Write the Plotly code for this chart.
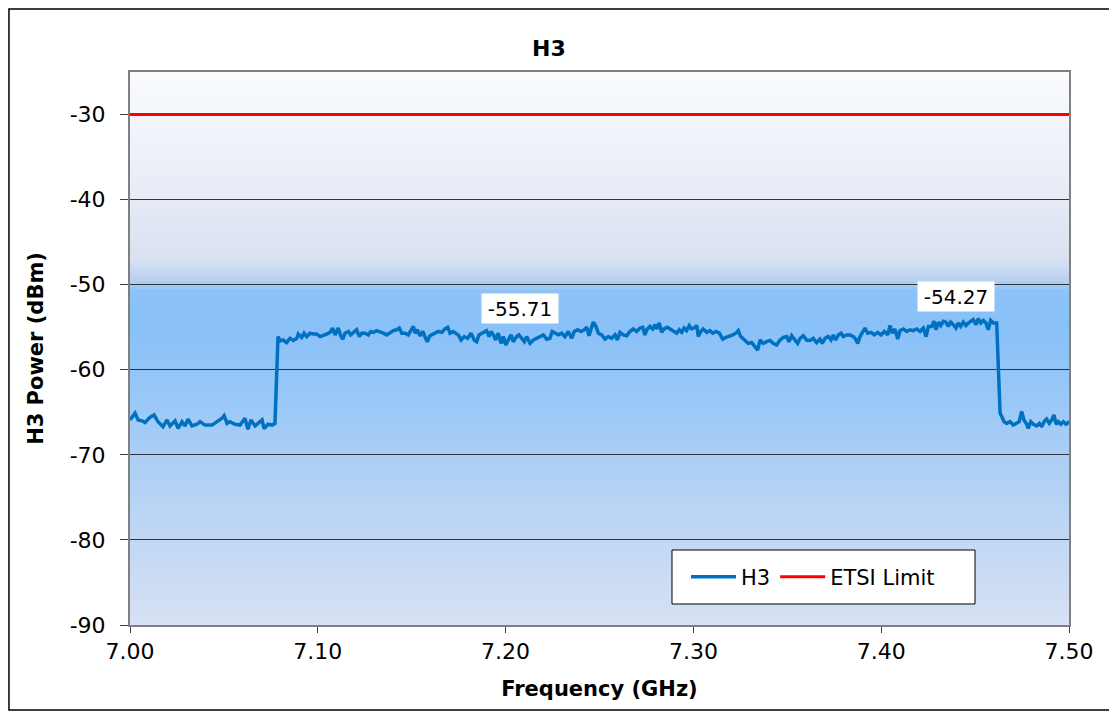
import plotly.graph_objects as go

# ---------------- data ----------------
freq_ghz = [
    7.0000, 7.0027, 7.0043, 7.0064, 7.0080, 7.0106, 7.0128, 7.0149, 7.0176, 7.0197,
    7.0213, 7.0240, 7.0256, 7.0277, 7.0293, 7.0309, 7.0330, 7.0357, 7.0373, 7.0399,
    7.0437, 7.0463, 7.0490, 7.0501, 7.0517, 7.0532, 7.0559, 7.0586, 7.0612, 7.0628,
    7.0644, 7.0666, 7.0682, 7.0703, 7.0714, 7.0735, 7.0756, 7.0772, 7.0788, 7.0799,
    7.0816, 7.0834, 7.0852, 7.0870, 7.0888, 7.0896, 7.0914, 7.0927, 7.0941, 7.0958,
    7.0976, 7.0994, 7.1012, 7.1029, 7.1047, 7.1065, 7.1079, 7.1092, 7.1109, 7.1122,
    7.1133, 7.1145, 7.1163, 7.1175, 7.1189, 7.1207, 7.1221, 7.1234, 7.1251, 7.1269,
    7.1282, 7.1296, 7.1314, 7.1331, 7.1349, 7.1367, 7.1384, 7.1402, 7.1420, 7.1434,
    7.1447, 7.1464, 7.1482, 7.1500, 7.1509, 7.1518, 7.1530, 7.1544, 7.1559, 7.1576,
    7.1583, 7.1597, 7.1615, 7.1633, 7.1642, 7.1660, 7.1677, 7.1692, 7.1704, 7.1721,
    7.1734, 7.1748, 7.1763, 7.1780, 7.1798, 7.1816, 7.1833, 7.1846, 7.1858, 7.1873,
    7.1887, 7.1899, 7.1912, 7.1922, 7.1935, 7.1947, 7.1961, 7.1976, 7.1988, 7.2001,
    7.2014, 7.2029, 7.2041, 7.2059, 7.2071, 7.2086, 7.2100, 7.2112, 7.2130, 7.2148,
    7.2166, 7.2183, 7.2201, 7.2219, 7.2236, 7.2248, 7.2263, 7.2281, 7.2299, 7.2316,
    7.2334, 7.2352, 7.2366, 7.2384, 7.2401, 7.2419, 7.2432, 7.2444, 7.2467, 7.2481,
    7.2494, 7.2512, 7.2529, 7.2547, 7.2565, 7.2583, 7.2595, 7.2609, 7.2627, 7.2645,
    7.2662, 7.2680, 7.2698, 7.2716, 7.2730, 7.2742, 7.2754, 7.2769, 7.2783, 7.2796,
    7.2804, 7.2818, 7.2831, 7.2843, 7.2861, 7.2879, 7.2897, 7.2911, 7.2925, 7.2938,
    7.2950, 7.2964, 7.2978, 7.2991, 7.3003, 7.3018, 7.3026, 7.3039, 7.3052, 7.3071,
    7.3088, 7.3103, 7.3120, 7.3138, 7.3156, 7.3174, 7.3191, 7.3209, 7.3227, 7.3239,
    7.3252, 7.3269, 7.3292, 7.3310, 7.3328, 7.3342, 7.3355, 7.3372, 7.3390, 7.3408,
    7.3425, 7.3443, 7.3461, 7.3479, 7.3497, 7.3509, 7.3523, 7.3541, 7.3555, 7.3568,
    7.3585, 7.3603, 7.3621, 7.3638, 7.3656, 7.3674, 7.3686, 7.3701, 7.3718, 7.3733,
    7.3745, 7.3757, 7.3772, 7.3786, 7.3798, 7.3816, 7.3834, 7.3852, 7.3864, 7.3875,
    7.3887, 7.3900, 7.3914, 7.3928, 7.3946, 7.3963, 7.3981, 7.3999, 7.4017, 7.4035,
    7.4047, 7.4059, 7.4073, 7.4088, 7.4100, 7.4118, 7.4136, 7.4153, 7.4171, 7.4189,
    7.4207, 7.4224, 7.4239, 7.4251, 7.4269, 7.4281, 7.4292, 7.4304, 7.4317, 7.4331,
    7.4345, 7.4357, 7.4370, 7.4384, 7.4398, 7.4410, 7.4423, 7.4437, 7.4451, 7.4464,
    7.4476, 7.4490, 7.4505, 7.4517, 7.4530, 7.4544, 7.4558, 7.4570, 7.4583, 7.4597,
    7.4615, 7.4633, 7.4642, 7.4654, 7.4668, 7.4686, 7.4703, 7.4721, 7.4735, 7.4748,
    7.4760, 7.4775, 7.4783, 7.4796, 7.4810, 7.4828, 7.4842, 7.4855, 7.4867, 7.4881,
    7.4895, 7.4908, 7.4920, 7.4931, 7.4943, 7.4956, 7.4970, 7.4984, 7.4996, 7.5000,
]

h3_power_dbm = [
    -65.9, -65.1, -65.9, -66.0, -66.2, -65.6, -65.3, -66.1, -66.7, -65.9,
    -66.6, -66.0, -66.9, -66.1, -66.6, -65.8, -66.6, -66.4, -66.1, -66.5,
    -66.5, -66.1, -65.7, -65.4, -66.3, -66.1, -66.4, -66.5, -65.7, -67.0,
    -65.9, -66.6, -66.3, -65.9, -66.9, -66.4, -66.5, -66.3, -56.1, -56.6,
    -56.5, -56.8, -56.3, -56.55, -56.3, -55.8, -56.2, -55.7, -56.1, -55.7,
    -55.8, -55.8, -56.1, -56.0, -55.8, -55.6, -55.1, -55.9, -55.1, -56.0,
    -56.4, -55.7, -55.5, -55.9, -55.6, -55.3, -56.1, -55.7, -55.7, -55.9,
    -55.5, -55.6, -55.4, -55.6, -55.7, -55.9, -55.6, -55.4, -55.3, -55.1,
    -55.7, -55.7, -55.9, -55.1, -54.9, -55.7, -55.3, -56.0, -55.5, -56.4,
    -56.7, -56.0, -55.8, -55.7, -55.5, -55.6, -55.2, -55.0, -55.7, -55.5,
    -55.7, -55.9, -56.5, -56.1, -56.3, -55.7, -56.5, -56.7, -55.9, -55.7,
    -55.5, -55.4, -56.1, -55.5, -55.9, -56.5, -55.7, -56.9, -56.1, -57.1,
    -56.5, -55.9, -56.7, -56.1, -55.9, -56.3, -56.7, -56.1, -56.9, -56.5,
    -56.3, -56.1, -55.9, -56.4, -56.3, -55.5, -55.7, -55.9, -55.7, -56.1,
    -55.5, -56.3, -55.5, -55.3, -55.5, -55.3, -55.0, -56.0, -54.4, -54.9,
    -55.7, -55.9, -56.4, -56.1, -56.3, -55.9, -56.5, -55.6, -55.9, -56.0,
    -55.5, -55.2, -55.5, -55.1, -55.0, -55.9, -55.2, -54.9, -55.2, -54.7,
    -55.2, -54.5, -55.6, -55.2, -55.0, -55.2, -55.5, -55.7, -55.3, -55.6,
    -55.1, -55.4, -54.8, -55.2, -55.1, -54.8, -56.1, -55.5, -55.2, -55.6,
    -55.4, -55.7, -55.5, -55.7, -56.4, -56.2, -56.0, -55.9, -55.7, -55.4,
    -56.1, -56.5, -56.9, -56.8, -57.3, -57.7, -56.5, -56.9, -56.7, -56.55,
    -56.9, -57.1, -56.5, -56.2, -56.1, -56.7, -56.0, -56.5, -56.9, -56.3,
    -56.0, -56.5, -56.55, -56.3, -56.8, -56.4, -56.9, -56.3, -56.1, -56.5,
    -55.9, -56.5, -55.9, -55.7, -56.1, -55.9, -55.9, -56.1, -56.4, -56.9,
    -56.1, -55.6, -55.1, -55.7, -55.6, -55.9, -55.6, -55.9, -55.5, -55.9,
    -54.8, -55.7, -55.2, -56.4, -55.4, -55.2, -55.5, -55.3, -55.4, -55.2,
    -55.5, -55.1, -56.1, -54.9, -54.9, -54.3, -55.3, -54.4, -54.8, -54.3,
    -54.4, -54.9, -54.4, -54.7, -55.1, -54.5, -54.9, -54.4, -54.8, -54.5,
    -54.3, -54.1, -54.7, -54.0, -54.5, -54.2, -54.5, -55.3, -54.2, -54.5,
    -54.5, -65.1, -65.5, -66.1, -66.3, -66.1, -66.5, -66.3, -66.1, -64.9,
    -65.9, -66.4, -66.9, -66.1, -66.4, -66.6, -66.3, -66.7, -66.1, -65.8,
    -66.3, -65.9, -65.3, -66.4, -66.1, -66.4, -66.1, -66.4, -66.2, -66.3,
]

etsi_limit_dbm = -30
limit_freq_ghz = [7.00, 7.50]

label_freq_ghz = [7.2077, 7.4398]
label_values = [-55.71, -54.27]

x_tick_vals = [7.00, 7.10, 7.20, 7.30, 7.40, 7.50]
x_tick_text = ["7.00", "7.10", "7.20", "7.30", "7.40", "7.50"]
y_tick_vals = [-90, -80, -70, -60, -50, -40, -30]
y_tick_text = ["-90", "-80", "-70", "-60", "-50", "-40", "-30"]

# ---------------- style ----------------
FONT = "DejaVu Sans, Liberation Sans, Arial, sans-serif"
BLUE = "#0070C0"
RED = "#FF0000"

fig = go.Figure()

fig.add_trace(go.Scatter(
    x=freq_ghz, y=h3_power_dbm, mode="lines", name="H3",
    line=dict(color=BLUE, width=3.5),
))
fig.add_trace(go.Scatter(
    x=limit_freq_ghz, y=[etsi_limit_dbm] * len(limit_freq_ghz), mode="lines",
    name="ETSI Limit", line=dict(color=RED, width=3),
))

# background gradient (plot area) made of thin strips
stops = [
    (0.00, (249, 251, 254)),
    (0.23, (230, 235, 246)),
    (0.34, (216, 225, 241)),
    (0.38, (181, 207, 241)),
    (0.395, (141, 195, 248)),
    (0.45, (136, 192, 248)),
    (0.59, (153, 200, 247)),
    (0.77, (182, 211, 244)),
    (1.00, (214, 225, 243)),
]


def color_at(f):
    for (f0, c0), (f1, c1) in zip(stops[:-1], stops[1:]):
        if f0 <= f <= f1:
            t = 0 if f1 == f0 else (f - f0) / (f1 - f0)
            return "rgb(%d,%d,%d)" % tuple(round(a + (b - a) * t) for a, b in zip(c0, c1))
    return "rgb(%d,%d,%d)" % stops[-1][1]


shapes = []
n_strips = 140
for i in range(n_strips):
    top = 1 - i / n_strips
    bot = 1 - (i + 1) / n_strips
    shapes.append(dict(
        type="rect", xref="x domain", yref="y domain",
        x0=0, x1=1, y0=bot - 0.002, y1=top,
        fillcolor=color_at((i + 0.5) / n_strips), line=dict(width=0), layer="below",
    ))

# outer chart border
shapes.append(dict(
    type="rect", xref="paper", yref="paper",
    x0=-0.1289, x1=1.0447, y0=-0.1537, y1=1.1139,
    line=dict(color="#000000", width=1.5), fillcolor="rgba(0,0,0,0)", layer="above",
))
# legend frame
shapes.append(dict(
    type="rect", xref="paper", yref="paper",
    x0=0.5772, x1=0.8999, y0=0.038, y1=0.1356,
    line=dict(color="#000000", width=1), fillcolor="white", layer="above",
))

annotations = []
for fx, val in zip(label_freq_ghz, label_values):
    annotations.append(dict(
        x=fx, y=val, xref="x", yref="y", text="%.2f" % val, showarrow=False,
        yshift=25, bgcolor="white", width=74, height=27,
        font=dict(family=FONT, size=20, color="black"),
    ))

fig.update_layout(
    width=1117, height=715,
    margin=dict(l=122, r=56, t=64, b=98),
    paper_bgcolor="white",
    plot_bgcolor="rgba(0,0,0,0)",
    font=dict(family=FONT, size=21, color="black"),
    title=dict(text="<b>H3</b>", x=0.4843, xanchor="center", y=1 - 40 / 715,
               yanchor="middle", font=dict(family=FONT, size=22, color="black")),
    showlegend=True,
    legend=dict(
        orientation="h", x=0.5921, y=0.0868, xanchor="left", yanchor="middle",
        bgcolor="rgba(0,0,0,0)", borderwidth=0,
        font=dict(family=FONT, size=21, color="black"),
        itemwidth=45,
    ),
    shapes=shapes,
    annotations=annotations,
)

fig.update_xaxes(
    range=[7.0, 7.5], tickvals=x_tick_vals, ticktext=x_tick_text,
    showgrid=False, zeroline=False,
    showline=True, linecolor="#808080", linewidth=2, mirror=True,
    ticks="outside", ticklen=6, tickcolor="#404040", tickwidth=1,
    tickfont=dict(family=FONT, size=22),
    title=dict(text="<b>Frequency (GHz)</b>", standoff=18,
               font=dict(family=FONT, size=21)),
)
fig.update_yaxes(
    range=[-90, -25], tickvals=y_tick_vals, ticktext=y_tick_text,
    showgrid=True, gridcolor="#333333", gridwidth=1, zeroline=False,
    showline=True, linecolor="#808080", linewidth=2, mirror=True,
    ticks="outside", ticklen=8, tickcolor="#404040", tickwidth=1,
    tickfont=dict(family=FONT, size=22),
    ticklabelstandoff=10,
    title=dict(text="<b>H3 Power (dBm)</b>", standoff=20,
               font=dict(family=FONT, size=21)),
)

fig.write_html("out.html")
